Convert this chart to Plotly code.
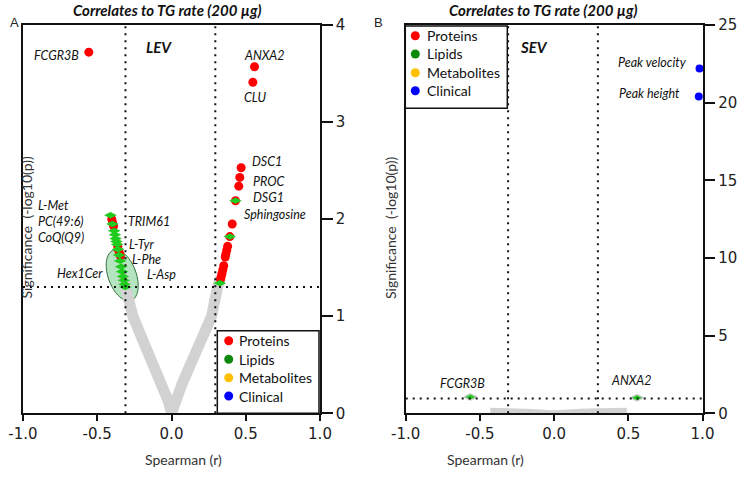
import numpy as np
import plotly.graph_objects as go

# ---------------- data ----------------
categories = ["Proteins", "Lipids", "Metabolites", "Clinical"]
category_colors = ["#FF0000", "#0B8A0B", "#FFC000", "#0000FF"]

x_ticks = [-1.0, -0.5, 0.0, 0.5, 1.0]
a_y_ticks = [0, 1, 2, 3, 4]
b_y_ticks = [0, 5, 10, 15, 20, 25]

r_thresholds = [-0.31, 0.295]
a_sig_threshold = 1.30
b_sig_threshold = 0.95

# Panel A (LEV): all features (grey), proteins (red), lipids (green)
a_gray_r = [-0.33, -0.31, -0.26, -0.19, -0.12, -0.06, -0.02, 0.0, 0.03, 0.07, 0.13, 0.20, 0.27, 0.31, 0.33]
a_gray_sig = [1.42, 1.30, 1.00, 0.74, 0.51, 0.29, 0.12, 0.0, 0.17, 0.30, 0.51, 0.76, 1.00, 1.30, 1.40]

a_prot_r = [-0.557, -0.402, -0.396, -0.390, -0.362, -0.356, -0.350, -0.344,
            0.559, 0.548, 0.469, 0.460, 0.453, 0.431, 0.409, 0.393, 0.378, 0.372,
            0.366, 0.362, 0.352, 0.346, 0.340, 0.335, 0.330]
a_prot_sig = [3.72, 2.00, 1.96, 1.93, 1.72, 1.68, 1.65, 1.62,
              3.57, 3.41, 2.53, 2.43, 2.34, 2.19, 1.95, 1.82, 1.72, 1.68,
              1.64, 1.61, 1.52, 1.48, 1.44, 1.41, 1.38]

a_lip_r = [-0.411, -0.398, -0.386, -0.381, -0.376, -0.371, -0.366, -0.360, -0.353,
           -0.346, -0.339, -0.333, -0.327, -0.321, -0.316, -0.311,
           0.431, 0.393, 0.326]
a_lip_sig = [2.04, 1.95, 1.88, 1.84, 1.80, 1.77, 1.74, 1.69, 1.63,
             1.57, 1.51, 1.46, 1.41, 1.37, 1.33, 1.30,
             2.19, 1.82, 1.34]

# Panel B (SEV)
b_gray_r = [-0.43, -0.30, -0.15, 0.0, 0.15, 0.30, 0.49]
b_gray_sig = [0.16, 0.13, 0.09, 0.0, 0.09, 0.13, 0.16]
b_lip_r = [-0.564, 0.558]
b_lip_sig = [1.05, 1.00]
b_clin_r = [0.980, 0.975]
b_clin_sig = [22.2, 20.4]

# text labels: (text, x, y, xanchor)
a_labels = [
    ("FCGR3B", -0.613, 3.69, "right"), ("ANXA2", 0.625, 3.69, "center"),
    ("CLU", 0.559, 3.25, "center"), ("DSC1", 0.537, 2.59, "left"),
    ("PROC", 0.543, 2.39, "left"), ("DSG1", 0.543, 2.22, "left"),
    ("Sphingosine", 0.483, 2.05, "left"), ("L-Met", -0.906, 2.145, "left"),
    ("PC(49:6)", -0.906, 1.98, "left"), ("CoQ(Q9)", -0.906, 1.815, "left"),
    ("TRIM61", -0.298, 1.98, "left"), ("L-Tyr", -0.292, 1.735, "left"),
    ("L-Phe", -0.276, 1.58, "left"), ("L-Asp", -0.17, 1.43, "left"),
    ("Hex1Cer", -0.456, 1.44, "right"),
]
b_labels = [
    ("Peak velocity", 0.904, 22.6, "right"), ("Peak height", 0.858, 20.6, "right"),
    ("FCGR3B", -0.616, 1.93, "center"), ("ANXA2", 0.521, 2.14, "center"),
]

# ---------------- layout geometry (pixels) ----------------
W, H = 746, 479
def px(x): return x / W
def py(y): return 1 - y / H

A_X = (23, 320)
B_X = (405.7, 702.5)
Y_PIX = (25, 413.3)

LAB_FONT = "Lato"
TICK_FONT = dict(family="DejaVu Sans", size=15, color="#222")
GRAY = "#D2D2D2"
RED = category_colors[0]
GREEN_PT = "#1ECB1E"
BLUE = category_colors[3]

fig = go.Figure()

# Panel A traces
fig.add_trace(go.Scatter(x=a_gray_r, y=a_gray_sig, mode="lines",
                         line=dict(color=GRAY, width=11), hoverinfo="skip",
                         showlegend=False, xaxis="x", yaxis="y"))
fig.add_trace(go.Scatter(x=a_prot_r, y=a_prot_sig, mode="markers",
                         marker=dict(color=RED, size=9, line=dict(width=0)),
                         showlegend=False, xaxis="x", yaxis="y"))
fig.add_trace(go.Scatter(x=a_lip_r, y=a_lip_sig, mode="markers",
                         marker=dict(color=GREEN_PT, size=9, symbol="diamond-wide", line=dict(width=0)),
                         showlegend=False, xaxis="x", yaxis="y"))

# Panel B traces
fig.add_trace(go.Scatter(x=b_gray_r, y=b_gray_sig, mode="lines",
                         line=dict(color=GRAY, width=6, shape="spline"), hoverinfo="skip",
                         showlegend=False, xaxis="x2", yaxis="y2"))
fig.add_trace(go.Scatter(x=b_lip_r, y=b_lip_sig, mode="markers",
                         marker=dict(color=GREEN_PT, size=9, symbol="diamond-wide",
                                     line=dict(width=1.5, color="rgba(200,200,200,0.8)")),
                         showlegend=False, xaxis="x2", yaxis="y2", cliponaxis=False))
fig.add_trace(go.Scatter(x=b_clin_r, y=b_clin_sig, mode="markers",
                         marker=dict(color=BLUE, size=8, line=dict(width=0)),
                         showlegend=False, xaxis="x2", yaxis="y2", cliponaxis=False))

axis_common = dict(showgrid=False, zeroline=False, showline=True, linecolor="#111",
                   linewidth=1.5, mirror=True, ticks="outside", tickcolor="#111",
                   tickwidth=1.5, tickfont=TICK_FONT, automargin=False)
xt = dict(tickvals=x_ticks, ticktext=[f"{v:.1f}" for v in x_ticks], ticklen=6, range=[-1, 1])

fig.update_layout(
    width=W, height=H, margin=dict(l=0, r=0, t=0, b=0, pad=0, autoexpand=False),
    paper_bgcolor="white", plot_bgcolor="white", showlegend=False,
    xaxis=dict(domain=[px(A_X[0]), px(A_X[1])], anchor="y", **xt, **axis_common),
    yaxis=dict(domain=[py(Y_PIX[1]), py(Y_PIX[0])], anchor="x", side="right",
               range=[0, 4], tickvals=a_y_ticks, ticklen=11, **axis_common),
    xaxis2=dict(domain=[px(B_X[0]), px(B_X[1])], anchor="y2", **xt, **axis_common),
    yaxis2=dict(domain=[py(Y_PIX[1]), py(Y_PIX[0])], anchor="x2", side="right",
                range=[0, 25], tickvals=b_y_ticks, ticklen=11, **axis_common),
)

shapes = []
annos = []
dot = dict(color="#111", width=2, dash="2px,5px")

# threshold lines
for xr, yr, ymax, thr in (("x", "y", 4, a_sig_threshold), ("x2", "y2", 25, b_sig_threshold)):
    for rt in r_thresholds:
        shapes.append(dict(type="line", xref=xr, yref=yr, x0=rt, x1=rt, y0=0, y1=ymax,
                           line=dot, layer="above"))
    shapes.append(dict(type="line", xref=xr, yref=yr, x0=-1, x1=1, y0=thr, y1=thr,
                       line=dot, layer="above"))

# highlight ellipse (panel A), rotated
cx_r, cy_s = -0.332, 1.42
a_px, b_px, tilt = 26.6, 14.0, np.deg2rad(20)
rpp = 2 / (A_X[1] - A_X[0])
spp = 4 / (Y_PIX[1] - Y_PIX[0])
t = np.linspace(0, 2 * np.pi, 60)
ux, uy = np.sin(tilt), np.cos(tilt)
vx, vy = np.cos(tilt), -np.sin(tilt)
dx = a_px * np.cos(t) * ux + b_px * np.sin(t) * vx
dy = a_px * np.cos(t) * uy + b_px * np.sin(t) * vy
ex = cx_r + dx * rpp
ey = cy_s - dy * spp
path = "M " + " L ".join(f"{a:.4f},{b:.4f}" for a, b in zip(ex, ey)) + " Z"
shapes.append(dict(type="path", xref="x", yref="y", path=path,
                   fillcolor="rgba(120,205,140,0.55)", line=dict(color="#2F6F3A", width=1),
                   layer="below"))

# legends (manual)
def legend_box(x0, y0, x1, y1, mx, tx, rows):
    shapes.append(dict(type="rect", xref="paper", yref="paper", x0=px(x0), x1=px(x1),
                       y0=py(y1), y1=py(y0), line=dict(color="#111", width=1.5),
                       fillcolor="white", layer="above"))
    for cat, col, ry in zip(categories, category_colors, rows):
        shapes.append(dict(type="circle", xref="paper", yref="paper", xsizemode="pixel",
                           ysizemode="pixel", xanchor=px(mx), yanchor=py(ry),
                           x0=-4.5, x1=4.5, y0=-4.5, y1=4.5, fillcolor=col,
                           line=dict(width=0), layer="above"))
        annos.append(dict(xref="paper", yref="paper", x=px(tx), y=py(ry), text=cat,
                          showarrow=False, xanchor="left", yanchor="middle",
                          font=dict(family=LAB_FONT, size=14, color="#111")))

legend_box(217.3, 330.7, 319, 413.3, 228.7, 236.5, [340.7, 359.3, 377.7, 396])
legend_box(405.3, 26, 507.3, 108.3, 415.3, 424.5, [35.7, 54, 72.7, 90.7])

# point labels
for labels, xr, yr in ((a_labels, "x", "y"), (b_labels, "x2", "y2")):
    for txt, lx, ly, anc in labels:
        annos.append(dict(xref=xr, yref=yr, x=lx, y=ly, text=f"<i>{txt}</i>",
                          showarrow=False, xanchor=anc, yanchor="middle", borderpad=0,
                          font=dict(family=LAB_FONT, size=12.5, color="#111")))

annos.append(dict(xref="x", yref="y", x=-0.081, y=3.77, text="<b><i>LEV</i></b>",
                  showarrow=False, font=dict(family=LAB_FONT, size=15, color="#111")))
annos.append(dict(xref="x2", yref="y2", x=-0.133, y=23.6, text="<b><i>SEV</i></b>",
                  showarrow=False, font=dict(family=LAB_FONT, size=15, color="#111")))

# titles, panel letters, axis titles
title = "Correlates to TG rate (200 µg)"
for cx, letter_x, ytx, xtx in ((166.7, 7.5, 16, 143), (543, 378, 391, 525.7)):
    annos.append(dict(xref="paper", yref="paper", x=px(cx), y=py(10), text=f"<b><i>{title}</i></b>",
                      showarrow=False, xanchor="center", yanchor="middle",
                      font=dict(family=LAB_FONT, size=15, color="#111")))
    annos.append(dict(xref="paper", yref="paper", x=px(letter_x), y=py(13),
                      text="A" if letter_x < 100 else "B", showarrow=False,
                      font=dict(family="Liberation Sans", size=13, color="#222")))
    annos.append(dict(xref="paper", yref="paper", x=px(ytx), y=py(228),
                      text="Significance  (-log10(p))", textangle=-90, showarrow=False,
                      font=dict(family=LAB_FONT, size=14, color="#333")))
    annos.append(dict(xref="paper", yref="paper", x=px(xtx), y=py(470),
                      text="Spearman (r)", showarrow=False,
                      font=dict(family=LAB_FONT, size=14, color="#333")))

fig.update_layout(shapes=shapes, annotations=annos)
fig.write_html("out.html", config={"displayModeBar": False},
               post_script="document.body.style.margin='0';document.body.style.padding='0';")
